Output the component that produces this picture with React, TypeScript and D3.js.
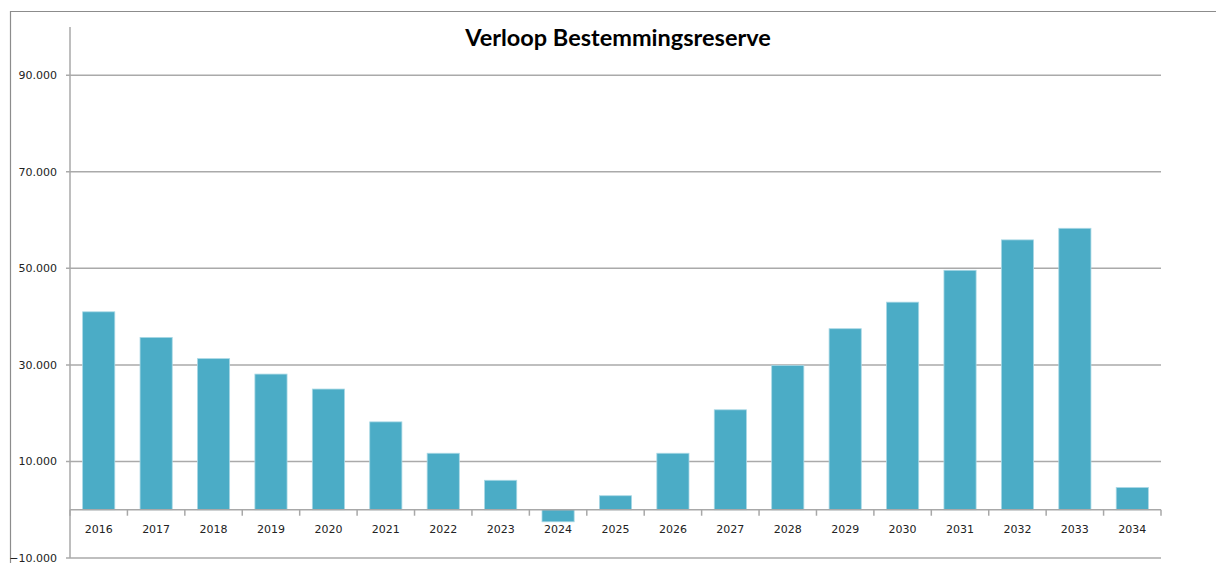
import React, { useEffect, useRef } from 'react';
import * as d3 from 'd3';

const years = ['2016', '2017', '2018', '2019', '2020', '2021', '2022', '2023', '2024', '2025',
  '2026', '2027', '2028', '2029', '2030', '2031', '2032', '2033', '2034'];
const reserve = [41000, 35700, 31300, 28100, 25000, 18200, 11700, 6100, -2500, 2900,
  11700, 20700, 29900, 37500, 43000, 49600, 55900, 58300, 4600];
const yTicks = [-10000, 10000, 30000, 50000, 70000, 90000];

const App = () => {
  const svgRef = useRef<SVGSVGElement>(null);

  useEffect(() => {
    const svg = d3.select(svgRef.current);
    svg.selectAll('*').remove();

    const width = 1216;
    const height = 563;
    const left = 70;
    const right = 1161;

    // outer frame (top and left edges visible)
    svg.append('path')
      .attr('d', `M10.5,${height} V11.5 H${width}`)
      .attr('fill', 'none')
      .attr('stroke', '#8c8c8c')
      .attr('stroke-width', 1.2);

    svg.append('text')
      .attr('x', 618)
      .attr('y', 46)
      .attr('text-anchor', 'middle')
      .style('font-family', 'Lato, "Open Sans", sans-serif')
      .style('font-weight', 'bold')
      .style('font-size', '23.5px')
      .style('fill', '#000')
      .text('Verloop Bestemmingsreserve');

    const x = d3.scaleBand<string>()
      .domain(years)
      .range([left, right])
      .paddingInner(0.44)
      .paddingOuter(0.22);

    const y = d3.scaleLinear()
      .domain([-10000, 100000])
      .range([558, 27]);

    const fmt = (v: number) => d3.format(',')(v).replace(/,/g, '.');

    // gridlines
    svg.append('g')
      .selectAll('line')
      .data(yTicks)
      .enter().append('line')
      .attr('x1', left - 4)
      .attr('x2', right)
      .attr('y1', d => y(d))
      .attr('y2', d => y(d))
      .attr('stroke', '#aaaaaa')
      .attr('stroke-width', 1.5);

    svg.append('g')
      .selectAll('text')
      .data(yTicks)
      .enter().append('text')
      .attr('x', left - 13)
      .attr('y', d => y(d))
      .attr('dy', '0.35em')
      .attr('text-anchor', 'end')
      .style('font-family', '"DejaVu Sans", sans-serif')
      .style('font-size', '11px')
      .style('fill', '#222')
      .text(d => fmt(d));

    // y axis line
    svg.append('line')
      .attr('x1', left)
      .attr('x2', left)
      .attr('y1', y(100000))
      .attr('y2', y(-10000))
      .attr('stroke', '#a8a8a8')
      .attr('stroke-width', 1.5);

    // bars
    svg.append('g')
      .selectAll('rect')
      .data(reserve)
      .enter().append('rect')
      .attr('x', (d, i) => x(years[i])!)
      .attr('width', x.bandwidth())
      .attr('y', d => y(Math.max(0, d)))
      .attr('height', d => Math.abs(y(d) - y(0)))
      .attr('fill', '#4BACC6')
      .attr('stroke', '#a9d8e5')
      .attr('stroke-width', 0.8);

    // zero axis with category ticks
    svg.append('line')
      .attr('x1', left)
      .attr('x2', right)
      .attr('y1', y(0))
      .attr('y2', y(0))
      .attr('stroke', '#a8a8a8')
      .attr('stroke-width', 1.5);

    const bounds = d3.range(years.length + 1).map(i => left + i * (right - left) / years.length);
    svg.append('g')
      .selectAll('line')
      .data(bounds)
      .enter().append('line')
      .attr('x1', d => d)
      .attr('x2', d => d)
      .attr('y1', y(0))
      .attr('y2', y(0) + 6)
      .attr('stroke', '#a8a8a8')
      .attr('stroke-width', 1.5);

    svg.append('g')
      .selectAll('text')
      .data(years)
      .enter().append('text')
      .attr('x', d => x(d)! + x.bandwidth() / 2)
      .attr('y', 529)
      .attr('dy', '0.35em')
      .attr('text-anchor', 'middle')
      .style('font-family', '"DejaVu Sans", sans-serif')
      .style('font-size', '11px')
      .style('fill', '#222')
      .text(d => d);
  }, []);

  return (
    <svg
      ref={svgRef}
      width={1216}
      height={563}
      style={{ position: 'absolute', left: 0, top: 0, background: '#fff' }}
    />
  );
};

export default App;
